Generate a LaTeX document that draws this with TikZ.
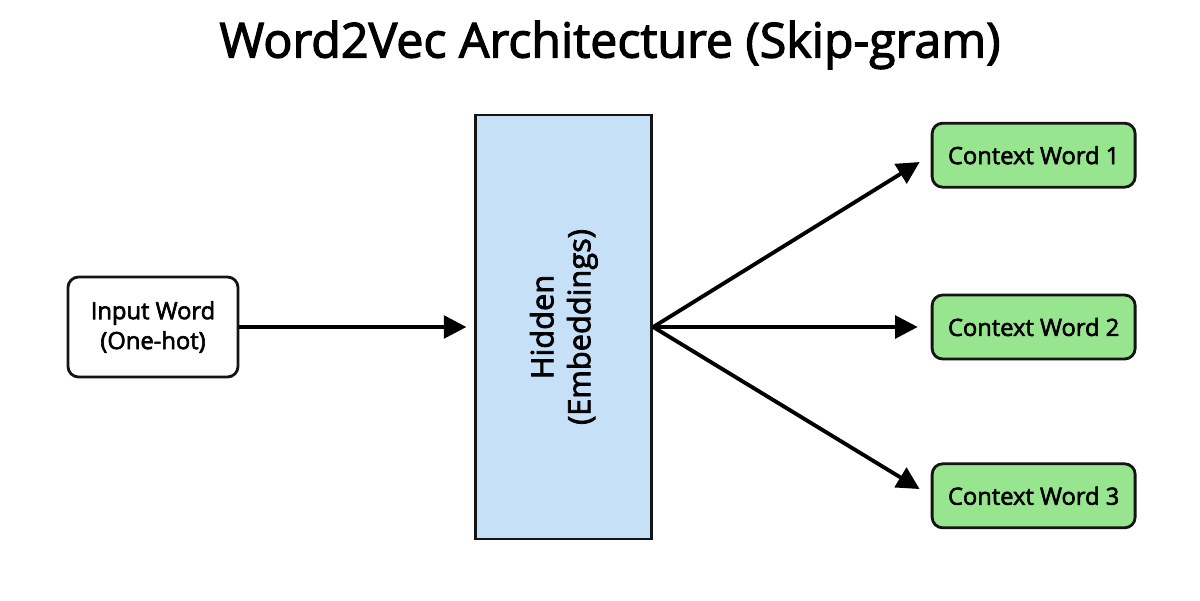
\documentclass[tikz,border=0pt]{standalone}
\usepackage{fontspec}
\setmainfont{Open Sans}
\newfontfamily\medfont[FakeBold=2.5]{Open Sans}
\usetikzlibrary{arrows.meta,positioning}
\definecolor{hiddenblue}{RGB}{198,224,248}
\definecolor{ctxgreen}{RGB}{152,229,144}
\definecolor{boxline}{RGB}{20,20,20}

\begin{document}
\begin{tikzpicture}[
            wordbox/.style={rectangle, draw=boxline, line width=1.6pt, rounded corners=6pt, align=center, font=\medfont\fontsize{13.5}{17}\selectfont},
            arrow/.style={-{Triangle[length=0.45cm, width=0.45cm]}, line width=2.2pt}
        ]
            \useasboundingbox[fill=white] (0,0) rectangle (24,12);
            \node[font=\medfont\fontsize{27.5}{33}\selectfont] (title) at (12.2,11.1) {Word2Vec Architecture (Skip-gram)};
            \node[wordbox, fill=white, minimum width=3.4cm, minimum height=2cm] (input) at (3.06,5.46) {Input Word\\(One-hot)};
            \node[rectangle, draw=boxline, line width=1.6pt, fill=hiddenblue, minimum width=3.52cm, minimum height=8.48cm, right=4.7cm of input] (hidden) {};
            \node[rotate=90, align=center, font=\medfont\fontsize{17.5}{21}\selectfont] (hiddenlabel) at (hidden.center) {Hidden\\(Embeddings)};
            \node[wordbox, fill=ctxgreen, minimum width=4.06cm, minimum height=1.28cm, right=5.55cm of hidden] (ctx2) {Context Word 2};
            \node[wordbox, fill=ctxgreen, minimum width=4.06cm, minimum height=1.28cm, above=2.1cm of ctx2] (ctx1) {Context Word 1};
            \node[wordbox, fill=ctxgreen, minimum width=4.06cm, minimum height=1.28cm, below=2.04cm of ctx2] (ctx3) {Context Word 3};
            \draw[arrow, shorten >=0.16cm] (input) -- (hidden);
            \draw[arrow, shorten >=0.26cm] (hidden.east) -- (ctx1.west);
            \draw[arrow, shorten >=0.26cm] (hidden.east) -- (ctx2.west);
            \draw[arrow, shorten >=0.26cm] (hidden.east) -- (ctx3.west);
        \end{tikzpicture}
\end{document}
